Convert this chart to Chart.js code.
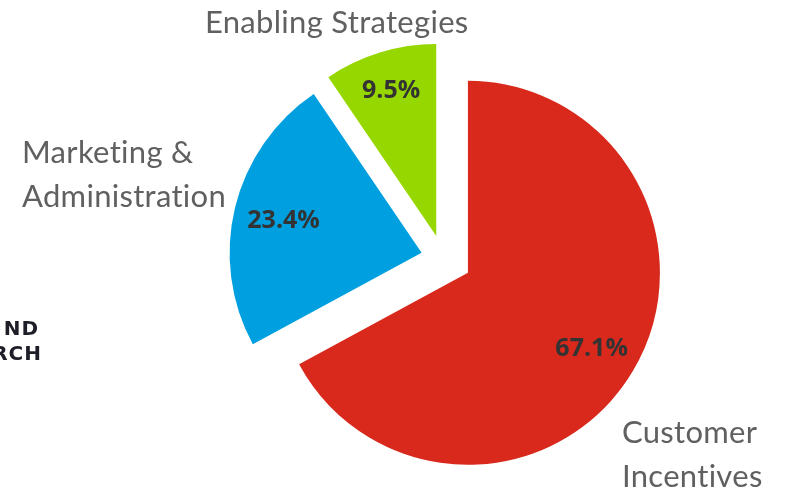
<!DOCTYPE html>
<html>
<head>
<meta charset="utf-8">
<script src="https://cdn.jsdelivr.net/npm/chart.js@4/dist/chart.umd.min.js"></script>
<style>
  html, body { margin: 0; padding: 0; background: #fff; }
  #wrap { width: 788px; height: 493px; position: relative; }
</style>
</head>
<body>
<div id="wrap"><canvas id="budget-pie"></canvas></div>
<script>
// spending split by program area
const categories = ['Customer Incentives', 'Marketing & Administration', 'Enabling Strategies'];
const shares = [67.1, 23.4, 9.5];

const sliceColors = ['#d9291c', '#009fdf', '#97d700'];
// how far each slice is pulled out from the middle, px
const explode = [29, 22, 23];
// where the percentage sits, as a share of the radius
const labelDepth = [0.75, 0.74, 0.8];

// category captions around the pie (x, first baseline)
const captions = [
    { lines: ['Customer', 'Incentives'], x: 622, y: 443 },
    { lines: ['Marketing &', 'Administration'], x: 22, y: 163 },
    { lines: ['Enabling Strategies'], x: 205, y: 33 }
];

// pull slices out along their middle angle without growing them
const explodePlugin = {
    id: 'explode',
    afterDatasetUpdate(chart, args) {
        args.meta.data.forEach((arc, i) => {
            const mid = (arc.startAngle + arc.endAngle) / 2;
            arc.x += Math.cos(mid) * explode[i];
            arc.y += Math.sin(mid) * explode[i];
        });
    }
};

const textPlugin = {
    id: 'pieText',
    afterDatasetsDraw(chart) {
        const ctx = chart.ctx;
        const arcs = chart.getDatasetMeta(0).data;
        ctx.save();

        // percentages inside the slices
        ctx.font = 'bold 25px "Open Sans"';
        ctx.fillStyle = '#333333';
        ctx.textAlign = 'center';
        ctx.textBaseline = 'middle';
        arcs.forEach((arc, i) => {
            const mid = (arc.startAngle + arc.endAngle) / 2;
            const r = arc.outerRadius * labelDepth[i];
            ctx.fillText(shares[i].toFixed(1) + '%', arc.x + Math.cos(mid) * r, arc.y + Math.sin(mid) * r + 2);
        });

        // captions
        ctx.font = '31px Lato';
        ctx.letterSpacing = '0.3px';
        ctx.fillStyle = '#606060';
        ctx.textAlign = 'left';
        ctx.textBaseline = 'alphabetic';
        captions.forEach(c => {
            c.lines.forEach((line, j) => ctx.fillText(line, c.x, c.y + j * 44));
        });

        // edge of the logo block, cut off by the frame
        ctx.font = 'bold 20px "DejaVu Sans"';
        ctx.letterSpacing = '1px';
        ctx.fillStyle = '#1e1e28';
        ctx.textAlign = 'right';
        ctx.fillText('ND', 39, 335);
        ctx.fillText('RCH', 42, 360);

        ctx.restore();
    }
};

const chart = new Chart(document.getElementById('budget-pie'), {
    type: 'pie',
    data: {
        labels: categories,
        datasets: [{
            data: shares,
            backgroundColor: sliceColors,
            borderWidth: 0
        }]
    },
    options: {
        responsive: true,
        maintainAspectRatio: false,
        animation: false,
        radius: 192,
        layout: {
            padding: { left: 98, right: 0, top: 23, bottom: 0 }
        },
        plugins: {
            legend: { display: false },
            tooltip: { enabled: false }
        }
    },
    plugins: [explodePlugin, textPlugin]
});
</script>
</body>
</html>
